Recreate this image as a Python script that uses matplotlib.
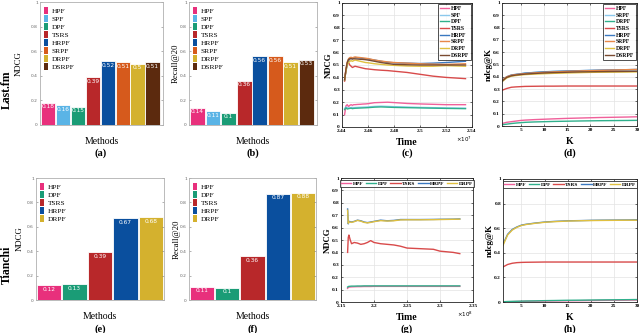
import matplotlib
matplotlib.use('Agg')
import matplotlib.pyplot as plt
from matplotlib.patches import Patch

plt.rcParams['font.family'] = ['Liberation Serif', 'DejaVu Serif']

# Colores
colores = {
    'HPF': '#e8307c', 'SPF': '#5ab4e6', 'DPF': '#1a9c76', 'TSRS': '#b8282a',
    'HRPF': '#0a4f9e', 'SRPF': '#d65a1c', 'DRPF': '#d4b12e', 'DSRPF': '#5c2a0e',
}
colores_lin = {
    'HPF': '#f0609a', 'SPF': '#8cc8ec', 'DPF': '#30b08c', 'TSRS': '#d84a4a',
    'HRPF': '#3a78c0', 'SRPF': '#e88848', 'DRPF': '#e0c040', 'DSRPF': '#7a4a30',
}

# Datos barras
metodos_lfm = ['HPF', 'SPF', 'DPF', 'TSRS', 'HRPF', 'SRPF', 'DRPF', 'DSRPF']
ndcg_lfm = [0.18, 0.16, 0.15, 0.39, 0.52, 0.51, 0.5, 0.51]
recall_lfm = [0.14, 0.11, 0.1, 0.36, 0.56, 0.56, 0.51, 0.53]
metodos_tc = ['HPF', 'DPF', 'TSRS', 'HRPF', 'DRPF']
ndcg_tc = [0.12, 0.13, 0.39, 0.67, 0.68]
recall_tc = [0.11, 0.1, 0.36, 0.87, 0.88]

# Datos (c): NDCG vs tiempo, Last.fm (x10^7)
t_lfm = [2.442, 2.443, 2.444, 2.445, 2.446, 2.447, 2.448, 2.449, 2.450, 2.452, 2.454,
         2.456, 2.458, 2.460, 2.465, 2.470, 2.475, 2.480, 2.490, 2.500, 2.510, 2.520, 2.535]
c_hpf = [0.10, 0.17, 0.18, 0.165, 0.175, 0.18, 0.175, 0.18, 0.18, 0.182, 0.183,
         0.185, 0.186, 0.188, 0.196, 0.198, 0.200, 0.197, 0.190, 0.186, 0.183, 0.180, 0.180]
c_spf = [0.15, 0.16, 0.158, 0.152, 0.155, 0.157, 0.158, 0.156, 0.157, 0.158, 0.159,
         0.160, 0.161, 0.162, 0.166, 0.168, 0.166, 0.164, 0.161, 0.158, 0.156, 0.154, 0.152]
c_dpf = [0.14, 0.155, 0.145, 0.148, 0.15, 0.152, 0.148, 0.15, 0.151, 0.152, 0.153,
         0.154, 0.155, 0.156, 0.160, 0.162, 0.160, 0.158, 0.156, 0.154, 0.152, 0.150, 0.148]
c_tsrs = [0.37, 0.46, 0.51, 0.52, 0.50, 0.49, 0.48, 0.485, 0.49, 0.485, 0.48,
          0.475, 0.47, 0.468, 0.462, 0.458, 0.455, 0.45, 0.44, 0.425, 0.41, 0.40, 0.39]
c_hrpf = [0.38, 0.45, 0.50, 0.53, 0.55, 0.552, 0.55, 0.555, 0.56, 0.558, 0.556,
          0.553, 0.55, 0.548, 0.54, 0.53, 0.522, 0.518, 0.515, 0.512, 0.515, 0.52, 0.53]
c_srpf = [0.38, 0.46, 0.52, 0.55, 0.56, 0.562, 0.558, 0.562, 0.565, 0.562, 0.56,
          0.557, 0.555, 0.552, 0.54, 0.532, 0.525, 0.52, 0.515, 0.51, 0.507, 0.505, 0.51]
c_drpf = [0.38, 0.45, 0.50, 0.52, 0.53, 0.535, 0.53, 0.535, 0.54, 0.535, 0.53,
          0.525, 0.52, 0.518, 0.51, 0.505, 0.50, 0.497, 0.492, 0.49, 0.49, 0.495, 0.49]
c_dsrpf = [0.38, 0.46, 0.52, 0.545, 0.55, 0.552, 0.548, 0.55, 0.55, 0.548, 0.546,
           0.545, 0.543, 0.54, 0.53, 0.52, 0.512, 0.505, 0.502, 0.50, 0.50, 0.50, 0.50]

# Datos (d): ndcg@K, Last.fm
k = [1, 2, 3, 4, 5, 6, 8, 10, 12, 15, 18, 20, 22, 25, 28, 30]
d_hpf = [0.02, 0.03, 0.035, 0.04, 0.045, 0.048, 0.052, 0.055, 0.058, 0.062, 0.065, 0.067, 0.069, 0.071, 0.073, 0.075]
d_srpf1 = [0.36, 0.395, 0.41, 0.418, 0.424, 0.43, 0.436, 0.441, 0.444, 0.447, 0.45, 0.452, 0.453, 0.455, 0.456, 0.457]
d_drpf1 = [0.01, 0.015, 0.02, 0.024, 0.027, 0.03, 0.033, 0.035, 0.037, 0.039, 0.041, 0.042, 0.043, 0.044, 0.045, 0.046]
d_tsrs = [0.29, 0.305, 0.315, 0.318, 0.32, 0.322, 0.323, 0.324, 0.324, 0.325, 0.325, 0.325, 0.325, 0.325, 0.325, 0.325]
d_hrpf = [0.37, 0.40, 0.415, 0.42, 0.425, 0.43, 0.435, 0.44, 0.443, 0.447, 0.45, 0.452, 0.454, 0.456, 0.458, 0.46]
d_srpf2 = [0.37, 0.40, 0.412, 0.418, 0.422, 0.426, 0.432, 0.436, 0.44, 0.444, 0.448, 0.45, 0.452, 0.455, 0.458, 0.46]
d_drpf2 = [0.36, 0.39, 0.405, 0.41, 0.415, 0.418, 0.422, 0.425, 0.428, 0.431, 0.434, 0.436, 0.437, 0.438, 0.439, 0.44]
d_dsrpf = [0.365, 0.395, 0.408, 0.414, 0.418, 0.422, 0.427, 0.431, 0.434, 0.437, 0.44, 0.441, 0.442, 0.443, 0.444, 0.445]

# Datos (g): NDCG vs tiempo, Tianchi (x10^8)
t_tc = [2.160, 2.161, 2.162, 2.164, 2.166, 2.170, 2.175, 2.180, 2.185, 2.190, 2.195,
        2.200, 2.210, 2.220, 2.230, 2.240, 2.250, 2.270, 2.290, 2.300, 2.320, 2.330]
g_hpf = [0.11, 0.118, 0.12, 0.121, 0.122, 0.123, 0.124, 0.124, 0.125, 0.125, 0.125,
         0.126, 0.126, 0.126, 0.126, 0.126, 0.126, 0.126, 0.126, 0.126, 0.126, 0.126]
g_dpf = [0.12, 0.125, 0.126, 0.127, 0.128, 0.128, 0.129, 0.129, 0.13, 0.13, 0.13,
         0.13, 0.13, 0.13, 0.13, 0.13, 0.13, 0.13, 0.13, 0.13, 0.13, 0.13]
g_tsrs = [0.40, 0.52, 0.54, 0.50, 0.47, 0.48, 0.475, 0.465, 0.47, 0.48, 0.495,
          0.48, 0.47, 0.465, 0.46, 0.45, 0.435, 0.43, 0.425, 0.41, 0.40, 0.39]
g_hrpf = [0.75, 0.63, 0.65, 0.648, 0.645, 0.65, 0.66, 0.655, 0.645, 0.64, 0.645,
          0.65, 0.66, 0.655, 0.658, 0.665, 0.665, 0.665, 0.666, 0.667, 0.668, 0.67]
g_drpf = [0.74, 0.635, 0.645, 0.645, 0.642, 0.648, 0.658, 0.652, 0.642, 0.638, 0.642,
          0.648, 0.656, 0.653, 0.655, 0.662, 0.663, 0.663, 0.664, 0.665, 0.667, 0.668]

# Datos (h): ndcg@K, Tianchi
h_hpf = [0.0, 0.002, 0.003, 0.004, 0.005, 0.006, 0.007, 0.008, 0.009, 0.01, 0.011, 0.012, 0.013, 0.014, 0.015, 0.016]
h_dpf = [0.002, 0.004, 0.005, 0.006, 0.007, 0.008, 0.009, 0.011, 0.012, 0.014, 0.015, 0.016, 0.017, 0.018, 0.019, 0.02]
h_tsrs = [0.285, 0.305, 0.315, 0.32, 0.322, 0.323, 0.324, 0.325, 0.325, 0.325, 0.325, 0.325, 0.325, 0.325, 0.325, 0.325]
h_hrpf = [0.47, 0.55, 0.59, 0.61, 0.625, 0.632, 0.642, 0.65, 0.655, 0.66, 0.662, 0.664, 0.665, 0.666, 0.667, 0.668]
h_drpf = [0.46, 0.545, 0.585, 0.607, 0.622, 0.63, 0.64, 0.648, 0.653, 0.658, 0.661, 0.662, 0.663, 0.664, 0.665, 0.665]

W, H = 640, 333
fig = plt.figure(figsize=(6.4, 3.33), dpi=100)


def eje(x0, y0, x1, y1):
    return fig.add_axes([x0 / W, 1 - y1 / H, (x1 - x0) / W, (y1 - y0) / H])


def barras(ax, nombres, valores, ylabel, ylx, xlim):
    bars = ax.bar(range(len(nombres)), valores, width=0.96,
                  color=[colores[n] for n in nombres], edgecolor='white', linewidth=0.6)
    for bar, v in zip(bars, valores):
        ax.text(bar.get_x() + bar.get_width() / 2, v - 0.012, f'{v:g}',
                ha='center', va='top', color='white', fontsize=4.2, family='DejaVu Sans')
    ax.set_xlim(*xlim)
    ax.set_ylim(0, 1)
    ax.set_yticks([0, 0.2, 0.4, 0.6, 0.8, 1])
    ax.set_yticklabels(['0', '0.2', '0.4', '0.6', '0.8', '1'], family='DejaVu Sans')
    ax.set_xticks([])
    ax.tick_params(axis='y', labelsize=3.2, colors='#777777', length=1.5, width=0.4,
                   direction='in', pad=1.5, right=True)
    ax.tick_params(axis='y', labelcolor='#666666')
    for s in ax.spines.values():
        s.set_color('#b0b0b0')
        s.set_linewidth(0.6)
    ax.set_ylabel(ylabel, fontsize=6.3, va='center')
    ax.yaxis.set_label_coords(ylx, 0.5)
    ax.set_xlabel('Methods', fontsize=7)
    ax.xaxis.set_label_coords(0.5, -0.1)
    handles = [Patch(facecolor=colores[n], label=n) for n in nombres]
    ax.legend(handles=handles, loc='upper left', frameon=False, fontsize=5.3,
              handlelength=0.45, handleheight=1.1, handletextpad=0.5,
              labelspacing=0.12, borderaxespad=0.2, bbox_to_anchor=(0.0, 0.995))


def lineas(ax, x, series, xlim, xticks, xticklabels, ylabel, ylx, xlabel,
           horizontal=False, yticks=None):
    for nombre, color, y in series:
        ax.plot(x, y, color=color, lw=1.0, label=nombre)
    ax.set_xlim(*xlim)
    ax.set_ylim(0, 1)
    ax.set_xticks(xticks)
    ax.set_xticklabels(xticklabels)
    if yticks is None:
        yticks = [0, 0.1, 0.2, 0.3, 0.4, 0.5, 0.6, 0.7, 0.8, 0.9, 1]
    ax.set_yticks(yticks)
    ax.set_yticklabels([f'{t:g}' for t in yticks])
    ax.grid(True, color='#e3e3e3', lw=0.5)
    ax.tick_params(labelsize=3.8, length=1.5, width=0.4, direction='in', pad=1.5,
                   top=True, right=True)
    for lbl in ax.get_xticklabels() + ax.get_yticklabels():
        lbl.set_fontweight('bold')
    for s in ax.spines.values():
        s.set_color('#222222')
        s.set_linewidth(0.6)
    ax.set_ylabel(ylabel, fontsize=6.3, fontweight='bold', va='center')
    ax.yaxis.set_label_coords(ylx, 0.5)
    ax.set_xlabel(xlabel, fontsize=7, fontweight='bold')
    ax.xaxis.set_label_coords(0.5, -0.09)
    if horizontal:
        leg = ax.legend(loc='upper center', ncol=5, handlelength=1.9,
                        handletextpad=0.3, columnspacing=0.45, borderpad=0.25,
                        borderaxespad=0.3, fancybox=False, edgecolor='#222222',
                        prop={'weight': 'bold', 'size': 3.9})
    else:
        leg = ax.legend(loc='upper right', handlelength=1.6,
                        handletextpad=0.3, labelspacing=0.3, borderpad=0.3,
                        borderaxespad=0.2, fancybox=False, edgecolor='#222222',
                        prop={'weight': 'bold', 'size': 4.1})
    leg.get_frame().set_linewidth(0.7)


# (a)
ax = eje(40, 2, 163, 125)
barras(ax, metodos_lfm, ndcg_lfm, 'NDCG', -0.17, (-0.55, 7.7))
# (b)
ax = eje(189, 2, 317, 125)
barras(ax, metodos_lfm, recall_lfm, 'Recall@20', -0.1, (-0.55, 7.7))
# (e)
ax = eje(36, 178, 164, 300)
barras(ax, metodos_tc, ndcg_tc, 'NDCG', -0.13, (-0.52, 4.52))
# (f)
ax = eje(189, 178, 316, 300)
barras(ax, metodos_tc, recall_tc, 'Recall@20', -0.1, (-0.52, 4.52))

# (c)
ax = eje(342, 3, 472, 127)
lineas(ax, t_lfm,
       [('HPF', colores_lin['HPF'], c_hpf), ('SPF', colores_lin['SPF'], c_spf),
        ('DPF', colores_lin['DPF'], c_dpf), ('TSRS', colores_lin['TSRS'], c_tsrs),
        ('HRPF', colores_lin['HRPF'], c_hrpf), ('SRPF', colores_lin['SRPF'], c_srpf),
        ('DRPF', colores_lin['DRPF'], c_drpf), ('DSRPF', colores_lin['DSRPF'], c_dsrpf)],
       (2.44, 2.54), [2.44, 2.46, 2.48, 2.5, 2.52, 2.54],
       ['2.44', '2.46', '2.48', '2.5', '2.52', '2.54'], 'NDCG', -0.1, 'Time')
ax.text(1.0, -0.06, r'$\times10^7$', transform=ax.transAxes, fontsize=4, ha='right', va='top')

# (d)
ax = eje(502, 3, 637, 126)
lineas(ax, k,
       [('HPF', colores_lin['HPF'], d_hpf), ('SRPF', colores_lin['SPF'], d_srpf1),
        ('DRPF', colores_lin['DPF'], d_drpf1), ('TSRS', colores_lin['TSRS'], d_tsrs),
        ('HRPF', colores_lin['HRPF'], d_hrpf), ('SRPF', colores_lin['SRPF'], d_srpf2),
        ('DRPF', colores_lin['DRPF'], d_drpf2), ('DSRPF', colores_lin['DSRPF'], d_dsrpf)],
       (1, 30), [5, 10, 15, 20, 25, 30], ['5', '10', '15', '20', '25', '30'],
       'ndcg@K', -0.1, 'K')

# (g)
ax = eje(341, 178, 473, 302)
lineas(ax, t_tc,
       [('HPF', colores_lin['HPF'], g_hpf), ('DPF', colores_lin['DPF'], g_dpf),
        ('TSRS', colores_lin['TSRS'], g_tsrs), ('HRPF', colores_lin['HRPF'], g_hrpf),
        ('DRPF', colores_lin['DRPF'], g_drpf)],
       (2.15, 2.35), [2.15, 2.2, 2.25, 2.3, 2.35], ['2.15', '2.2', '2.25', '2.3', '2.35'],
       'NDCG', -0.1, 'Time', horizontal=True)
ax.text(1.0, -0.06, r'$\times10^8$', transform=ax.transAxes, fontsize=4, ha='right', va='top')

# (h)
ax = eje(503, 179, 637, 302)
lineas(ax, k,
       [('HPF', colores_lin['HPF'], h_hpf), ('DPF', colores_lin['DPF'], h_dpf),
        ('TSRS', colores_lin['TSRS'], h_tsrs), ('HRPF', colores_lin['HRPF'], h_hrpf),
        ('DRPF', colores_lin['DRPF'], h_drpf)],
       (1, 30), [5, 10, 15, 20, 25, 30], ['5', '10', '15', '20', '25', '30'],
       'ndcg@K', -0.1, 'K', horizontal=True, yticks=[0, 0.2, 0.4, 0.6, 0.8, 1])

# Etiquetas de subfiguras
for x, y, t in [(101, 153, '(a)'), (253, 153, '(b)'), (407, 153, '(c)'), (570, 153, '(d)'),
                (100, 329, '(e)'), (253, 329, '(f)'), (407, 329, '(g)'), (570, 329, '(h)')]:
    fig.text(x / W, 1 - y / H, t, ha='center', va='center', fontsize=7.5, fontweight='bold')

# Etiquetas de filas
fig.text(7 / W, 1 - 90 / H, 'Last.fm', rotation=90, ha='center', va='center',
         fontsize=8.5, fontweight='bold')
fig.text(7 / W, 1 - 265 / H, 'Tianchi', rotation=90, ha='center', va='center',
         fontsize=8.5, fontweight='bold')

plt.savefig('out.png', dpi=100)
